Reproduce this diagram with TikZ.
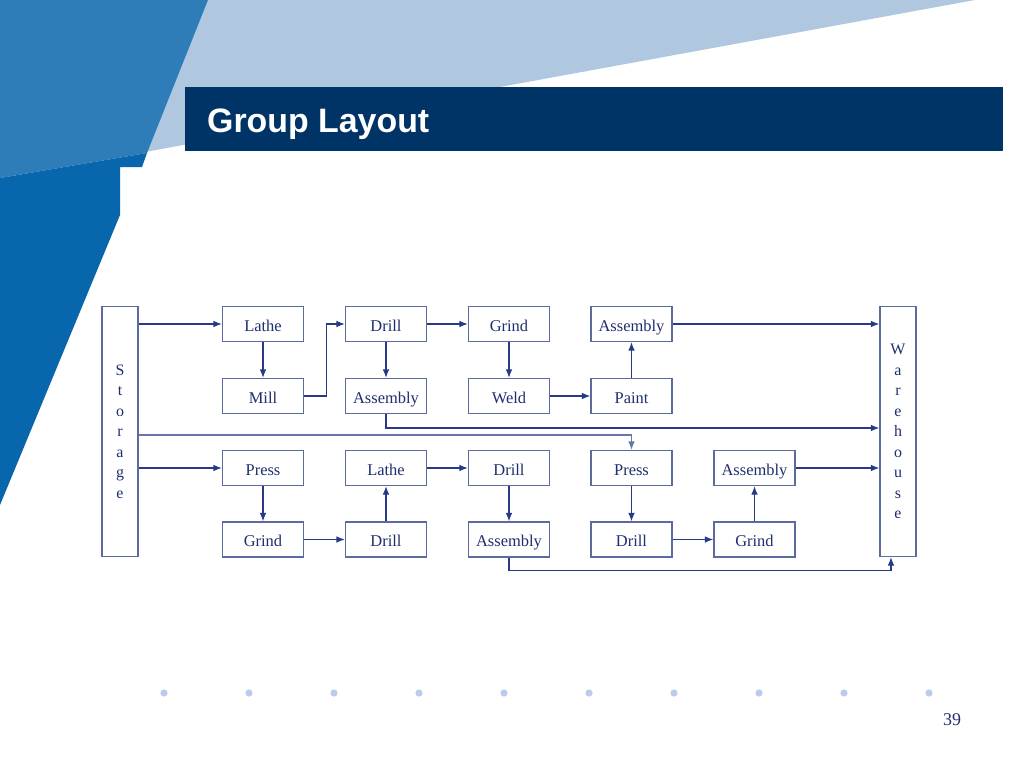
\documentclass[tikz,border=0pt]{standalone}
\usepackage{fontspec}
\setmainfont{Liberation Serif}
\newfontfamily\titlefont{Liberation Sans}
\usetikzlibrary{arrows.meta}
\definecolor{bluemed}{HTML}{2E7DB8}
\definecolor{bluedark}{HTML}{0867AC}
\definecolor{bluelight}{HTML}{AFC8DF}
\definecolor{titlebg}{HTML}{013466}
\definecolor{boxc}{HTML}{5B6B9E}
\definecolor{arrc}{HTML}{263A86}
\definecolor{arrlightc}{HTML}{6676A8}
\definecolor{txtc}{HTML}{1F2E6E}
\definecolor{dotc}{HTML}{B8CCEC}
\tikzset{
  stbox/.style={draw=boxc, line width=1.1bp, minimum width=81bp, minimum height=35bp, inner sep=0pt,
    text height=16bp, text depth=2bp,
    text=txtc, font=\fontsize{16.5}{18}\selectfont},
  tallbox/.style={draw=boxc, line width=1.1bp, minimum width=36bp, minimum height=250bp, inner sep=0pt,
    text=txtc, align=center, font=\fontsize{16}{20.6}\selectfont},
  arr/.style={draw=arrc, line width=1.1bp, -{Latex[length=8.5bp,width=6.5bp]}},
  arrlight/.style={draw=arrlightc, line width=1.1bp, -{Latex[length=8.5bp,width=6.5bp]}},
}
\begin{document}
\begin{tikzpicture}[x=1bp,y=-1bp]
\useasboundingbox (0,0) rectangle (1024,768);
\fill[white] (0,0) rectangle (1024,768);
% background decoration
\fill[bluelight] (208,0) -- (975,0) -- (145,152) -- cycle;
\fill[bluemed] (0,0) -- (208,0) -- (147,153) -- (0,178) -- cycle;
\fill[bluedark] (0,178) -- (147,153) -- (142,167) -- (120,167) -- (120,215) -- (0,505) -- cycle;
\fill[titlebg] (185,87) rectangle (1003,151);
\node[anchor=base west, text=white, inner sep=0pt, font=\titlefont\bfseries\fontsize{34}{38}\selectfont] (title) at (207,132) {Group Layout};
% dots
\foreach \i in {0,...,9} {
  \fill[dotc] (164+85*\i,693) circle (3.6);
}
\node[anchor=base, text=txtc, inner sep=0pt, font=\fontsize{18}{20}\selectfont] (pagenum) at (952,725) {39};

% tall boxes
\node[tallbox] (storage) at (120,431.5) {S\\t\\o\\r\\a\\g\\e};
\node[tallbox] (warehouse) at (898,431.5) {W\\a\\r\\e\\h\\o\\u\\s\\e};

% row 1
\node[stbox] (lathe1) at (263,324) {Lathe};
\node[stbox] (drill1) at (386,324) {Drill};
\node[stbox] (grind1) at (509,324) {Grind};
\node[stbox] (asm1) at (631.5,324) {Assembly};
% row 2
\node[stbox] (mill2) at (263,396) {Mill};
\node[stbox] (asm2) at (386,396) {Assembly};
\node[stbox] (weld2) at (509,396) {Weld};
\node[stbox] (paint2) at (631.5,396) {Paint};
% row 3
\node[stbox] (press3) at (263,468) {Press};
\node[stbox] (lathe3) at (386,468) {Lathe};
\node[stbox] (drill3) at (509,468) {Drill};
\node[stbox] (press3b) at (631.5,468) {Press};
\node[stbox] (asm3) at (754.5,468) {Assembly};
% row 4
\node[stbox] (grind4) at (263,539.5) {Grind};
\node[stbox] (drill4) at (386,539.5) {Drill};
\node[stbox] (asm4) at (509,539.5) {Assembly};
\node[stbox] (drill4b) at (631.5,539.5) {Drill};
\node[stbox] (grind4b) at (754.5,539.5) {Grind};

\coordinate (y428) at (0,428);
\coordinate (y435) at (0,435);
\coordinate (x891) at (891,0);

% connectors, upper group
\draw[arr] (storage.east |- lathe1) -- (lathe1.west);
\draw[arr] (lathe1.south) -- (mill2.north);
\draw[arr] (mill2.east) -- ++(22,0) |- (drill1.west);
\draw[arr] (drill1.south) -- (asm2.north);
\draw[arr] (drill1.east) -- (grind1.west);
\draw[arr] (grind1.south) -- (weld2.north);
\draw[arr] (weld2.east) -- (paint2.west);
\draw[arr] (paint2.north) -- (asm1.south);
\draw[arr] (asm1.east) -- (warehouse.west |- asm1);
\draw[arr] (asm2.south) |- (warehouse.west |- y428);
\draw[arrlight] (storage.east |- y435) -| (press3b.north);

% connectors, lower group
\draw[arr] (storage.east |- press3) -- (press3.west);
\draw[arr] (press3.south) -- (grind4.north);
\draw[arr] (grind4.east) -- (drill4.west);
\draw[arr] (drill4.north) -- (lathe3.south);
\draw[arr] (lathe3.east) -- (drill3.west);
\draw[arr] (drill3.south) -- (asm4.north);
\draw[arr] (asm4.south) -- ++(0,13) -| (x891 |- warehouse.south);
\draw[arr] (press3b.south) -- (drill4b.north);
\draw[arr] (drill4b.east) -- (grind4b.west);
\draw[arr] (grind4b.north) -- (asm3.south);
\draw[arr] (asm3.east) -- (warehouse.west |- asm3);
\end{tikzpicture}
\end{document}
